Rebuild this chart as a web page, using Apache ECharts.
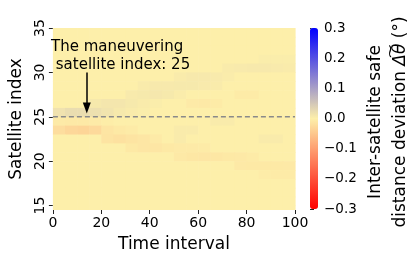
<!DOCTYPE html>
<html>
<head>
<meta charset="utf-8">
<script src="https://cdn.jsdelivr.net/npm/echarts@6/dist/echarts.min.js"></script>
<style>html,body{margin:0;padding:0;background:#fff;}#c{width:415px;height:261px;}</style>
</head>
<body>
<div id="c"></div>
<script>
// ---- data ----
const timeEdges = [0,5,10,15,20,25,30,35,40,45,50,55,60,65,70,75,80,85,90,95,100];
const satLow = [34,33,32,31,30,29,28,27,26,25,24,23,22,21,20,19,18,17,16,15,14];
const deviation = [
  [0,0,0,0,0,0,0,0,0,0,0,0,0,0,0,0,0,0,0,0],
  [0,0,0,0,0,0,0,0,0,0,0,0,0,0,0,0,0,0,0,0],
  [0,0,0,0,0,0,0,0,0,0,0,0,0,0,0,0,0,0,0,0],
  [0,0,0,0,0,0,0,0,0,0,0,0,0,0,0,0,0,0.003,0.003,0.003],
  [0,0,0,0,0,0,0,0,0,0,0,0,0,0,0.005,0.006,0.007,0.007,0.006,0.005],
  [0,0,0,0,0,0,0,0,0,0,0.005,0.007,0.007,0.006,0.004,0,0,0,0,0],
  [0,0,0,0,0,0,0,0.005,0.007,0.007,0.008,0.008,0.006,0.005,0,0,0,0,0,0],
  [0,0,0,0,0,0,0.006,0.008,0.01,0.008,0.004,0,0,0,0,-0.005,-0.005,0,0,0],
  [0,0,0,0.008,0.011,0.011,0.008,0.005,0.003,0,0,-0.006,-0.007,-0.005,0,0,0,0,0,0],
  [0.016,0.022,0.022,0.019,0.014,0.008,0.005,0.003,0,0,0,0,0,0,0,0,0,0,0,0],
  [-0.006,-0.007,-0.007,-0.006,-0.003,0,0,0,0,0,0,0,0,0.005,0.005,0,0,0,0,0],
  [-0.022,-0.03,-0.033,-0.027,-0.012,-0.008,-0.005,0,0,0,0.005,0.005,0,0,0,0,0,0,0,0],
  [0,0,0,0,-0.014,-0.017,-0.014,-0.011,-0.006,0,0.005,0,0,0,0,0,0,0.005,0.005,0],
  [0,0,0,0,0,0,-0.008,-0.011,-0.011,-0.008,-0.006,-0.006,-0.005,0,0,0,0,0,0,0],
  [0,0,0,0,0,0,0,0,0,0,-0.007,-0.01,-0.011,-0.01,-0.008,-0.007,-0.005,0,0,0],
  [0,0,0,0,0,0,0,0,0,0,0,0,0,0,0,-0.007,-0.008,-0.008,-0.008,-0.007],
  [0,0,0,0,0,0,0,0,0,0,0,0,0,0,0,0,0,-0.004,-0.005,-0.005],
  [0,0,0,0,0,0,0,0,0,0,0,0,0,0,0,0,0,0,0,0],
  [0,0,0,0,0,0,0,0,0,0,0,0,0,0,0,0,0,0,0,0],
  [0,0,0,0,0,0,0,0,0,0,0,0,0,0,0,0,0,0,0,0],
  [0,0,0,0,0,0,0,0,0,0,0,0,0,0,0,0,0,0,0,0]
];
const maneuverIndex = 25;
const yTicks = [15,20,25,30,35];
const arrowFrom = [14, 30];
const arrowTo = [14, 26];
const colorRange = [-0.3, 0.3];

// ---- build ----
const cells = [];
for (let r = 0; r < satLow.length; r++) {
  for (let c = 0; c < timeEdges.length - 1; c++) {
    cells.push([timeEdges[c], timeEdges[c+1], satLow[r], satLow[r] + 1, deviation[r][c]]);
  }
}
const F = 'DejaVu Sans';
const fmtCb = v => { if (Math.abs(v) < 1e-9) return '0.0'; return (v < 0 ? '\u2212' : '') + Math.abs(v).toFixed(1); };

const chart = echarts.init(document.getElementById('c'), null, {renderer: 'canvas'});
chart.setOption({
  animation: false,
  backgroundColor: '#fff',
  grid: [
    {left: 51, top: 28, width: 244, height: 182},
    {left: 310, top: 28, width: 8, height: 181}
  ],
  xAxis: [
    {gridIndex: 0, type: 'value', min: 0, max: 100, interval: 20,
     axisLine: {show: false}, splitLine: {show: false},
     axisTick: {show: true, length: 4, lineStyle: {color: '#222'}},
     axisLabel: {fontFamily: F, fontSize: 14, color: '#000', margin: 6},
     name: 'Time interval', nameLocation: 'middle', nameGap: 26,
     nameTextStyle: {fontFamily: F, fontSize: 17, color: '#000'}},
    {gridIndex: 1, type: 'value', min: 0, max: 1, show: false}
  ],
  yAxis: [
    {gridIndex: 0, type: 'value', min: 14.5, max: 35,
     axisLine: {show: false}, splitLine: {show: false},
     axisTick: {show: true, length: 4, customValues: yTicks, lineStyle: {color: '#222'}},
     axisLabel: {fontFamily: F, fontSize: 14, color: '#000', rotate: 90, margin: 6, customValues: yTicks},
     name: 'Satellite index', nameLocation: 'middle', nameGap: 26, nameRotate: 90,
     nameTextStyle: {fontFamily: F, fontSize: 17, color: '#000'}},
    {gridIndex: 1, type: 'value', min: colorRange[0], max: colorRange[1], interval: 0.1, position: 'right',
     axisLine: {show: false}, splitLine: {show: false},
     axisTick: {show: true, length: 4, lineStyle: {color: '#222'}},
     axisLabel: {fontFamily: F, fontSize: 13.5, color: '#000', margin: 6, formatter: fmtCb}}
  ],
  visualMap: {
    type: 'continuous', seriesIndex: 0, dimension: 4,
    min: colorRange[0], max: colorRange[1],
    inRange: {color: ['#ff0000', '#fdefaa', '#0000ff']},
    orient: 'vertical', left: 310, top: 28, itemWidth: 8, itemHeight: 181,
    padding: 0, calculable: false, hoverLink: false, text: null, show: true
  },
  graphic: [
    {type: 'text', x: 51, y: 38, z: 100, silent: true,
     style: {text: 'The maneuvering\n satellite index: 25', fontFamily: F, fontSize: 15, lineHeight: 18, fill: '#000',
       align: 'left', verticalAlign: 'top'}},
    {type: 'text', x: 388, y: 122, z: 100, rotation: Math.PI / 2, silent: true,
     style: {text: 'Inter-satellite safe\ndistance deviation {m|\u0394\u0360\u03b8} (\u00b0)', fontFamily: F, fontSize: 17, lineHeight: 25,
       fill: '#000', align: 'center', verticalAlign: 'middle',
       rich: {m: {fontFamily: F, fontSize: 17, fontStyle: 'italic', lineHeight: 25}}}}
  ],
  series: [
    {type: 'custom', xAxisIndex: 0, yAxisIndex: 0, clip: true, silent: true, z: 1,
     encode: {x: [0, 1], y: [2, 3]},
     data: cells,
     renderItem: function (params, api) {
       const p0 = api.coord([api.value(0), api.value(3)]);
       const p1 = api.coord([api.value(1), api.value(2)]);
       return {type: 'rect', shape: {x: p0[0], y: p0[1], width: p1[0] - p0[0] + 0.6, height: p1[1] - p0[1] + 0.6},
               style: {fill: api.visual('color')}};
     }},
    {type: 'line', xAxisIndex: 0, yAxisIndex: 0, silent: true, symbol: 'none', z: 3,
     data: [[0, maneuverIndex], [100, maneuverIndex]],
     lineStyle: {color: '#8a8a8a', width: 1.5, type: [5, 3]},
     markLine: {silent: true, symbol: ['none', 'triangle'], symbolSize: [8, 11],
       lineStyle: {color: '#000', width: 1.5, type: 'solid'}, label: {show: false},
       data: [[{coord: arrowFrom}, {coord: arrowTo}]]}}
  ]
});
</script>
</body>
</html>
